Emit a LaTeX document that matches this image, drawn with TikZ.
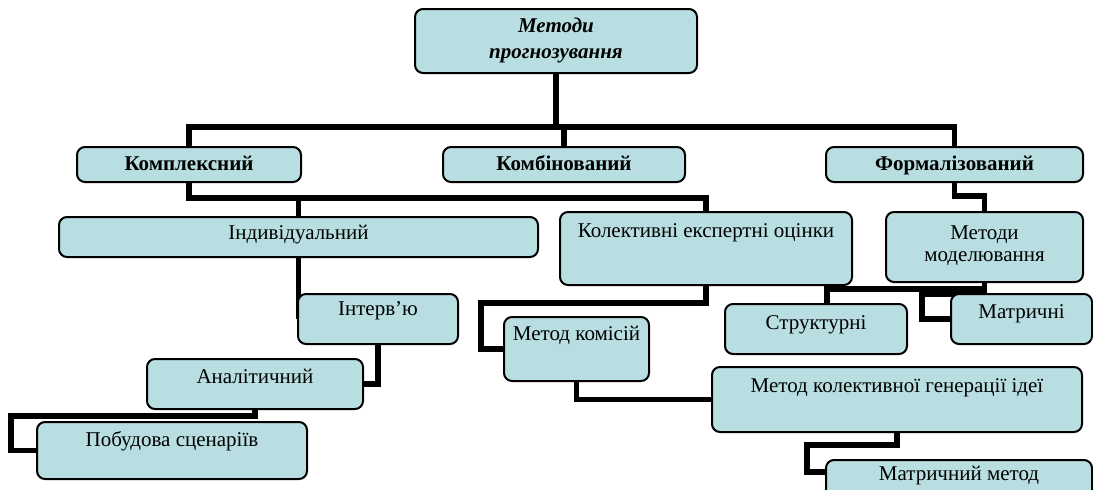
\documentclass[tikz,border=0pt]{standalone}
\usepackage{fontspec}
\setmainfont{Liberation Serif}
\usetikzlibrary{positioning, fit, calc, backgrounds}
\definecolor{boxfill}{RGB}{184,222,225}
\tikzset{
  box/.style={draw, line width=1pt, rounded corners=4pt, fill=boxfill, inner sep=0pt},
  lbl/.style={anchor=base, inner sep=0pt, font=\fontsize{10.5}{13}\selectfont},
  hdr/.style={lbl, font=\fontsize{10.5}{13}\selectfont\bfseries},
  conn/.style={line width=2.6pt},
}
\begin{document}
\begin{tikzpicture}[x=0.5pt, y=-0.5pt]
\useasboundingbox (0,0) rectangle (1093,489);
\clip (0,0) rectangle (1093,489);

\node[box, fit={(415,9) (697,73)}] (top) {};
\node[box, fit={(77,147) (301,182)}] (kompl) {};
\node[box, fit={(443,147) (685,182)}] (komb) {};
\node[box, fit={(826,147) (1083,182)}] (formal) {};
\node[box, fit={(59,217) (538,257)}] (indiv) {};
\node[box, fit={(560,212) (852,285)}] (kolekt) {};
\node[box, fit={(886,212) (1083,282)}] (model) {};
\node[box, fit={(298,294) (458,344)}] (interv) {};
\node[box, fit={(147,359) (363,409)}] (analit) {};
\node[box, fit={(37,422) (307,479)}] (pobud) {};
\node[box, fit={(504,317) (649,381)}] (komis) {};
\node[box, fit={(725,304) (907,354)}] (struct) {};
\node[box, fit={(951,294) (1092,344)}] (matr) {};
\node[box, fit={(712,367) (1082,432)}] (gener) {};
\node[box, fit={(826,460) (1092,500)}] (matmet) {};

\node[hdr, font=\fontsize{10.5}{13}\selectfont\bfseries\itshape] (top-a) at (556,32) {Методи};
\node[hdr, font=\fontsize{10.5}{13}\selectfont\bfseries\itshape] (top-b) at (556,58) {прогнозування};
\node[hdr] (kompl-t) at (189,170) {Комплексний};
\node[hdr] (komb-t) at (564,170) {Комбінований};
\node[hdr] (formal-t) at (954.5,170) {Формалізований};
\node[lbl] (indiv-t) at (298.5,239) {Індивідуальний};
\node[lbl] (kolekt-t) at (706,237) {Колективні експертні оцінки};
\node[lbl] (model-a) at (984.5,239) {Методи};
\node[lbl] (model-b) at (984.5,261) {моделювання};
\node[lbl] (interv-t) at (378,315) {Інтерв’ю};
\node[lbl] (analit-t) at (255,383) {Аналітичний};
\node[lbl] (pobud-t) at (172,446) {Побудова сценаріїв};
\node[lbl] (komis-t) at (576.5,340) {Метод комісій};
\node[lbl] (struct-t) at (816,329) {Структурні};
\node[lbl] (matr-t) at (1021.5,318) {Матричні};
\node[lbl] (gener-t) at (897,392) {Метод колективної генерації ідеї};
\node[lbl] (matmet-t) at (959,480) {Матричний метод};

\begin{scope}[on background layer]
\draw[conn] (top.south) -- ++(0,53) -| (kompl.north);
\draw[conn] (top.south) -- ++(0,53) -| (komb.north);
\draw[conn] (top.south) -- ++(0,53) -| (formal.north);
\draw[conn] (kompl.south) -- ++(0,15) -| (indiv.north);
\draw[conn] (kompl.south) -- ++(0,15) -| (kolekt.north);
\draw[conn] (formal.south) -- ++(0,13) -| (model.north);
\draw[conn] (indiv.south) |- (interv.west);
\draw[conn] (interv.south) |- (analit.east);
\draw[conn] (analit.south) -- ++(0,6) -| ($(pobud.west)+(-25,0)$) -- (pobud.west);
\draw[conn] (kolekt.south) -- ++(0,17) -| ($(komis.west)+(-22,0)$) -- (komis.west);
\draw[conn] (komis.south) |- (gener.west);
\draw[conn] (model.south) -- ++(0,6) -| ($(struct.north)+(11,0)$);
\draw[conn] (model.south) -- ++(0,11) -| ($(matr.west)+(-28,0)$) -- (matr.west);
\draw[conn] (gener.south) -- ++(0,12) -| ($(matmet.north west)+(-18,13)$) -- ($(matmet.north west)+(0,13)$);
\end{scope}
\end{tikzpicture}
\end{document}
